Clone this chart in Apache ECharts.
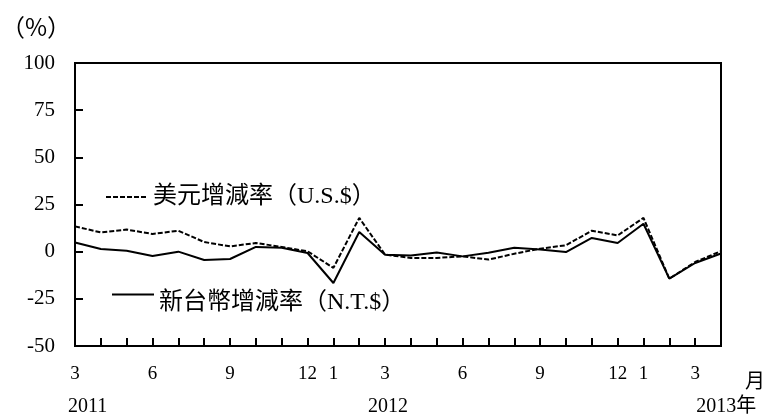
<!DOCTYPE html>
<html>
<head>
<meta charset="utf-8">
<script src="https://cdn.jsdelivr.net/npm/echarts@6/dist/echarts.min.js"></script>
<style>html,body{margin:0;padding:0;background:#fff;}#c{width:766px;height:418px;}</style>
</head>
<body>
<div id="c"></div>
<script>
// Months Mar 2011 .. Apr 2013
var months = ['3','4','5','6','7','8','9','10','11','12','1','2','3','4','5','6','7','8','9','10','11','12','1','2','3','4'];
var shownMonths = ['1','3','6','9','12'];
var yearLabels = ['2011','','','','','','','','','','','','2012','','','','','','','','','','','','2013年',''];
var usdGrowth = [13.4, 10.2, 11.7, 9.4, 11.1, 5.1, 2.8, 4.6, 2.5, 0.2, -8.6, 17.9, -1.6, -3.3, -3.3, -2.5, -4.2, -1.1, 1.6, 3.4, 11.1, 8.6, 17.9, -14.3, -5.5, 0.3];
var ntdGrowth = [4.9, 1.4, 0.5, -2.3, 0.0, -4.4, -3.9, 2.5, 2.1, -0.7, -16.6, 10.4, -1.6, -2.0, -0.4, -2.5, -0.6, 2.1, 1.2, -0.2, 7.3, 4.6, 14.8, -14.3, -6.0, -1.0];
var usdName = '美元增減率（U.S.$）';
var ntdName = '新台幣增減率（N.T.$）';

var FONT = "'Liberation Serif', 'Noto Sans CJK TC', serif";
var CJKFONT = "'Noto Sans CJK TC', 'Liberation Serif', serif";
var chart = echarts.init(document.getElementById('c'));

chart.setOption({
  animation: false,
  title: {
    text: '（%）', left: -4, top: 10,
    textStyle: {fontFamily: CJKFONT, fontSize: 24, fontWeight: 'normal', color: '#000'}
  },
  legend: [
    {
      data: [usdName], left: 100, top: 180, itemWidth: 42, itemHeight: 14,
      itemStyle: {opacity: 0},
      textStyle: {fontFamily: FONT, fontSize: 24, color: '#000'},
      selectedMode: false
    },
    {
      data: [ntdName], left: 106, top: 284, itemWidth: 42, itemHeight: 14,
      itemStyle: {opacity: 0},
      formatter: function (n) { return '{t|' + n + '}'; },
      textStyle: {
        fontFamily: FONT, fontSize: 24, color: '#000',
        rich: {t: {fontFamily: FONT, fontSize: 24, color: '#000', padding: [16, 0, 0, 0]}}
      },
      selectedMode: false
    }
  ],
  grid: {left: 75, right: 45, top: 63, bottom: 72, show: true, borderColor: '#000', borderWidth: 2},
  xAxis: {
    type: 'category', data: months, boundaryGap: false,
    axisLine: {onZero: false, lineStyle: {color: '#000', width: 2}},
    axisTick: {show: true, inside: true, length: 8, interval: 0, lineStyle: {color: '#000', width: 2}},
    axisLabel: {
      interval: 0,
      formatter: function (v) { return shownMonths.indexOf(v) >= 0 ? v : ''; },
      margin: 19, fontFamily: FONT, fontSize: 19, color: '#000'
    },
    splitLine: {show: false}
  },
  yAxis: {
    type: 'value', min: -50, max: 100, interval: 25,
    axisLine: {show: true, lineStyle: {color: '#000', width: 2}},
    axisTick: {show: true, inside: true, length: 8, lineStyle: {color: '#000', width: 2}},
    axisLabel: {margin: 20, fontFamily: FONT, fontSize: 21, color: '#000'},
    splitLine: {show: false}
  },
  series: [
    {
      name: usdName, type: 'line', data: usdGrowth, symbol: 'none',
      lineStyle: {color: '#000', width: 2, type: [5, 2]}, itemStyle: {color: '#000'}
    },
    {
      name: ntdName, type: 'line', data: ntdGrowth, symbol: 'none',
      lineStyle: {color: '#000', width: 2, type: 'solid'}, itemStyle: {color: '#000'}
    }
  ]
});

// Year labels and month unit, placed through the axis scale
var yMin = -50;
var texts = [];
yearLabels.forEach(function (t, i) {
  if (!t) return;
  var p = chart.convertToPixel({xAxisIndex: 0, yAxisIndex: 0}, [i, yMin]);
  var isMid = (i === 12);
  texts.push({
    type: 'text', x: isMid ? p[0] + 3 : p[0] + (i === 0 ? -7 : 1), y: p[1] + 61,
    style: {text: t, fontFamily: FONT, fontSize: 20, fill: '#000',
      align: isMid ? 'center' : 'left', verticalAlign: 'middle'}
  });
});
var pe = chart.convertToPixel({xAxisIndex: 0, yAxisIndex: 0}, [months.length - 1, yMin]);
texts.push({
  type: 'text', x: pe[0] + 24, y: pe[1] + 34,
  style: {text: '月', fontFamily: CJKFONT, fontSize: 20, fill: '#000', align: 'left', verticalAlign: 'middle'}
});
chart.setOption({graphic: texts});
</script>
</body>
</html>
